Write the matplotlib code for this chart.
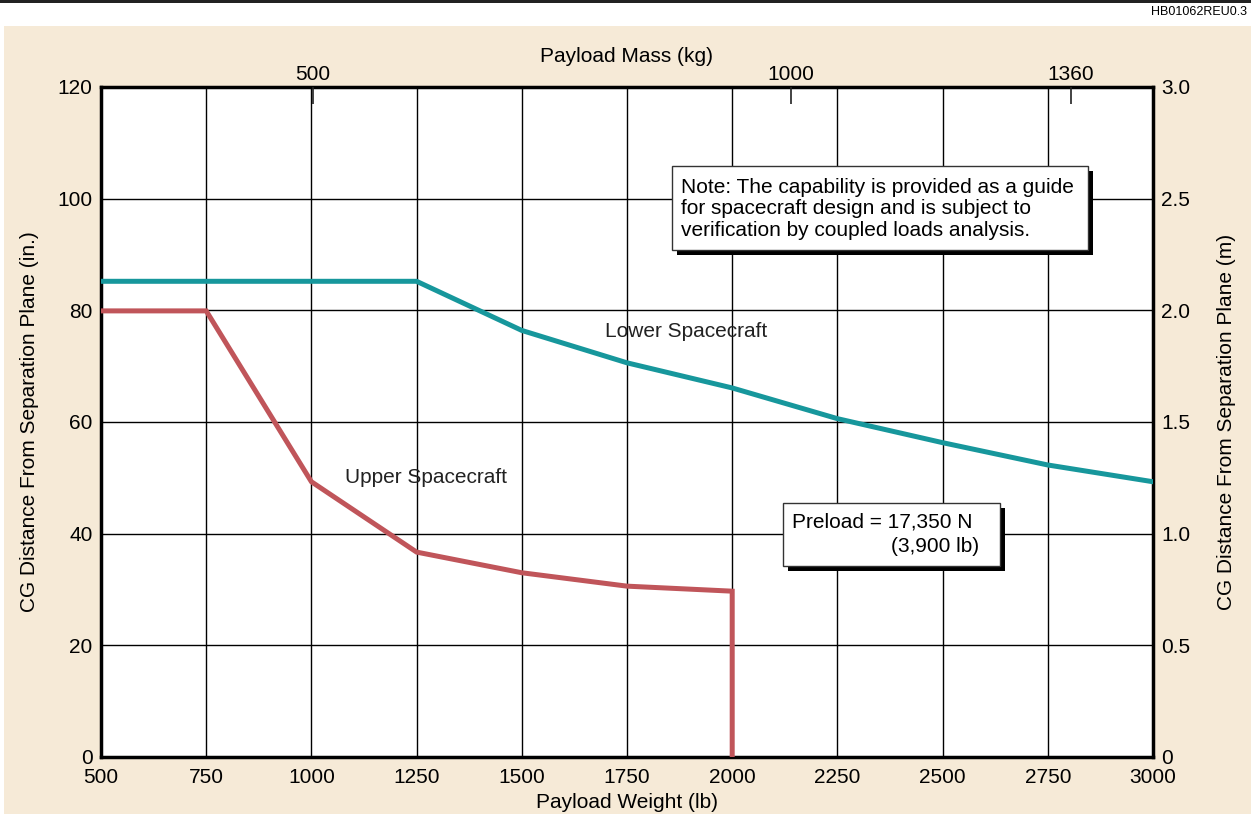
import matplotlib.pyplot as plt
from matplotlib.patches import Rectangle

plt.rcParams['font.family'] = ['Liberation Sans', 'DejaVu Sans']

# payload weight (lb) vs CG distance (in.)
weight_lb = [500, 750, 1000, 1250, 1500, 1750, 2000, 2250, 2500, 2750, 3000]
lower_cg = [85.2, 85.2, 85.2, 85.2, 76.4, 70.6, 66.1, 60.6, 56.3, 52.3, 49.3]
upper_weight = [500, 750, 1000, 1250, 1500, 1750, 2000, 2000]
upper_cg = [79.9, 79.9, 49.3, 36.7, 33.0, 30.6, 29.7, 0]

x_ticks = [500, 750, 1000, 1250, 1500, 1750, 2000, 2250, 2500, 2750, 3000]
y_ticks = [0, 20, 40, 60, 80, 100, 120]
m_ticks = [0, 0.5, 1.0, 1.5, 2.0, 2.5, 3.0]
m_labels = ['0', '0.5', '1.0', '1.5', '2.0', '2.5', '3.0']
# top axis (kg) ticks, as placed on the lb scale in the original
mass_tick_pos = [1003, 2139, 2804]
mass_tick_labels = ['500', '1000', '1360']

beige = '#F6EAD7'
teal = '#17979C'
red = '#C0555A'
fs = 15

fig = plt.figure(figsize=(12.51, 8.18), dpi=100)
fig.patch.set_facecolor('white')

# background panel and top rule
fig.patches.append(Rectangle((4/1251, 4/818), 1 - 4/1251, (814-26)/818, transform=fig.transFigure,
                             facecolor=beige, edgecolor='none', zorder=-2))
fig.patches.append(Rectangle((0, 1 - 3/818), 1, 3/818, transform=fig.transFigure,
                             facecolor='#222222', edgecolor='none', zorder=-2))
fig.text(0.997, 1 - 12/818, 'HB01062REU0.3', ha='right', va='center', fontsize=9)

ax = fig.add_axes([101/1251, 61/818, (1153-101)/1251, (757-87)/818])
ax.set_facecolor('white')
ax.plot(weight_lb, lower_cg, color=teal, lw=3.6, solid_joinstyle='miter', zorder=3)
ax.plot(upper_weight, upper_cg, color=red, lw=3.6, solid_joinstyle='miter', zorder=3)

ax.set_xlim(500, 3000)
ax.set_ylim(0, 120)
ax.set_xticks(x_ticks)
ax.set_yticks(y_ticks)
ax.tick_params(axis='y', length=0, labelsize=fs, pad=6)
ax.tick_params(axis='x', length=0, labelsize=fs, pad=8)
ax.grid(True, color='black', lw=1.0)
ax.set_axisbelow(True)
for s in ax.spines.values():
    s.set_linewidth(2.5)
ax.set_xlabel('Payload Weight (lb)', fontsize=fs, labelpad=4)
ax.yaxis.set_label_coords(-62/1052, 0.5)
ax.set_ylabel('CG Distance From Separation Plane (in.)', fontsize=fs)

ax2 = ax.twinx()
ax2.set_ylim(0, 3.0)
ax2.set_yticks(m_ticks)
ax2.set_yticklabels(m_labels)
ax2.tick_params(length=0, labelsize=fs, pad=6)
ax2.set_ylabel('CG Distance From Separation Plane (m)', fontsize=fs, rotation=90)
ax2.yaxis.set_label_coords(1 + 64/1052, 0.5)
for s in ax2.spines.values():
    s.set_visible(False)

ax3 = ax.twiny()
ax3.set_xlim(500, 3000)
ax3.set_xticks(mass_tick_pos)
ax3.set_xticklabels(mass_tick_labels)
ax3.tick_params(direction='in', length=12, width=1.2, labelsize=fs, pad=2, color='#222222')
ax3.set_xlabel('Payload Mass (kg)', fontsize=fs, labelpad=2)
for s in ax3.spines.values():
    s.set_visible(False)

ax.text(1890, 76.2, 'Lower Spacecraft', ha='center', va='center', fontsize=fs, color='#222222')
ax.text(1272, 50.0, 'Upper Spacecraft', ha='center', va='center', fontsize=fs, color='#222222')

def note_box(x0, y0, x1, y1):
    # box with a black drop shadow, given in axes fraction
    dx, dy = 5/1052, -5/670
    ax.add_patch(Rectangle((x0 + dx, y0 + dy), x1 - x0, y1 - y0, transform=ax.transAxes,
                           facecolor='black', edgecolor='none', zorder=5))
    ax.add_patch(Rectangle((x0, y0), x1 - x0, y1 - y0, transform=ax.transAxes,
                           facecolor='white', edgecolor='#333333', lw=1.0, zorder=6))

note_box((672-101)/1052, (757-250)/670, (1088-101)/1052, (757-166)/670)
ax.text((681-101)/1052, (757-209)/670,
        'Note: The capability is provided as a guide\nfor spacecraft design and is subject to\nverification by coupled loads analysis.',
        transform=ax.transAxes, ha='left', va='center', fontsize=fs, linespacing=1.15, zorder=7)

note_box((783-101)/1052, (757-566)/670, (1000-101)/1052, (757-503)/670)
ax.text((792-101)/1052, (757-522)/670, 'Preload = 17,350 N', transform=ax.transAxes,
        ha='left', va='center', fontsize=fs, zorder=7)
ax.text((979-101)/1052, (757-546)/670, '(3,900 lb)', transform=ax.transAxes,
        ha='right', va='center', fontsize=fs, zorder=7)

fig.savefig('out.png', dpi=100, facecolor=fig.get_facecolor())
